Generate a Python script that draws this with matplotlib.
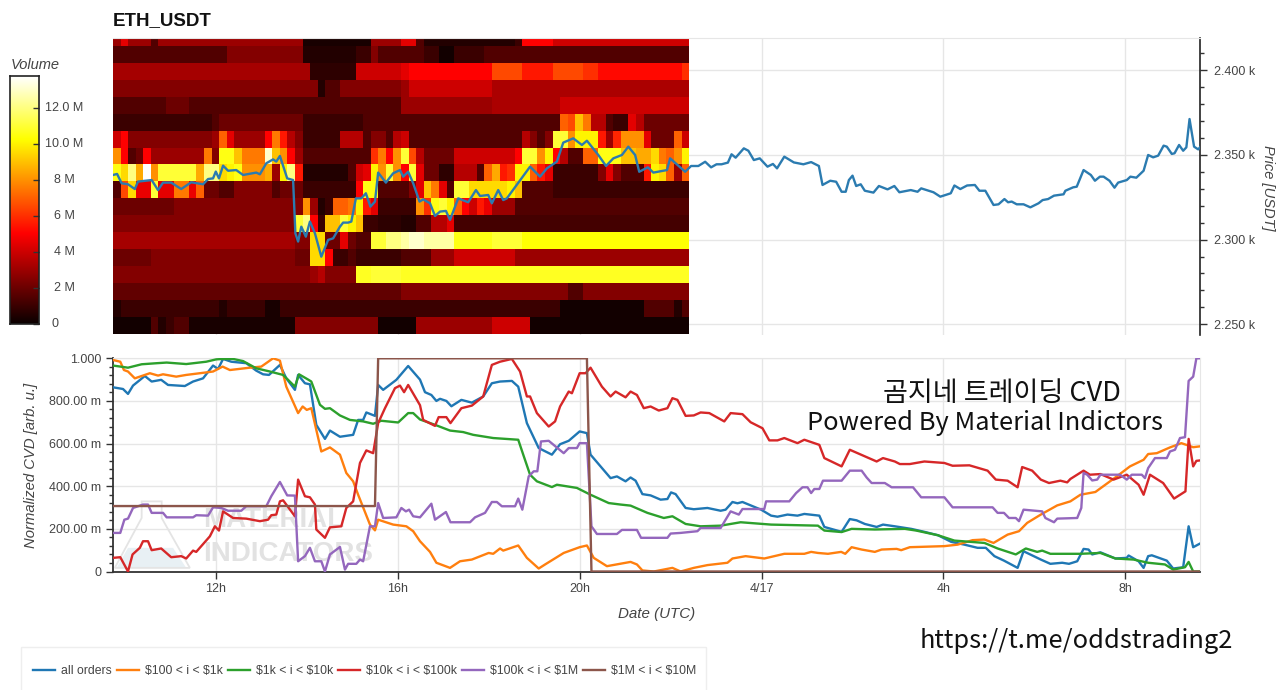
import numpy as np
import matplotlib
matplotlib.use('Agg')
import matplotlib.pyplot as plt
from matplotlib.ticker import MultipleLocator, AutoMinorLocator
from matplotlib.patches import Polygon, Rectangle

plt.rcParams['font.family'] = ['Liberation Sans', 'DejaVu Sans']

W, H = 1280, 690

# hours counted from 4/16 00:00 UTC
x_ticks = [12, 16, 20, 24, 28, 32]
x_labels = ['12h', '16h', '20h', '4/17', '4h', '8h']
x_start, x_end = 9.74, 33.64

price_ticks = [2250, 2300, 2350, 2400]
price_labels = ['2.250 k', '2.300 k', '2.350 k', '2.400 k']
cvd_ticks = [0, 200, 400, 600, 800, 1000]
cvd_labels = ['0', '200.00 m', '400.00 m', '600.00 m', '800.00 m', '1.000']
vol_ticks = [0, 2, 4, 6, 8, 10, 12]
vol_labels = ['0', '2 M', '4 M', '6 M', '8 M', '10.0 M', '12.0 M']

# heatmap rows, top to bottom, as (first 10 min column, volume in M) runs
n_cols = 76
col_minutes = 10
row_bottom, row_step = 2244.3, 10.0
heat_runs = [
    [(0,3),(1,4.5),(2,3),(5,1.5),(6,3),(25,0.3),(34,3),(38,4.5),(40,1.5),(41,0.5),(53,1),(54,5),(58,4)],
    [(0,1.5),(15,2.5),(25,0.5),(32,1),(34,2.5),(35,1.5),(41,1),(43,0.2),(45,1),(49,1.5)],
    [(0,3.2),(26,0.7),(32,4),(38,4.5),(39,5),(50,6.5),(54,5.5),(58,6.5),(62,6),(64,5.2),(75,6)],
    [(0,2.5),(27,0.5),(28,1.5),(30,2.5),(38,3),(39,4),(50,3.3)],
    [(0,1.5),(7,2),(10,1.5),(38,3),(50,3.3),(59,4)],
    [(0,1),(13,1.5),(14,2),(25,1),(33,1.5),(59,7),(60,6.5),(61,9),(62,7.5),(63,3.5),(65,1.5),(66,1),(68,4.5),(69,3.5),(70,2)],
    [(0,4),(1,5),(2,2.5),(13,3),(14,7),(15,4.5),(16,3),(20,5),(21,7.5),(22,5.5),(23,3.5),(24,2.5),(25,1),(30,3.5),(33,1.5),
     (34,2.5),(36,1.5),(37,3.5),(38,4),(39,1.5),(54,3.5),(55,2.5),(56,1.5),(57,2.5),(58,11),(60,8),(61,10),(64,5.5),(65,3),
     (66,5.8),(67,8),(70,4.5),(71,2),(74,7),(75,4)],
    [(0,8),(1,5),(2,1.5),(3,2),(4,5),(5,3),(12,7.5),(13,2.5),(14,10.5),(16,9),(17,7.5),(20,13),(21,9),(22,8),(23,5),(24,3),
     (25,1.5),(34,6),(35,7.5),(36,5),(37,8),(38,11),(39,6.5),(40,3.5),(41,2),(45,4),(53,5),(54,11),(56,8),(57,10),(58,5),
     (59,3.5),(60,1.5),(62,7),(64,10.5),(67,9),(69,8.5),(71,9.5),(72,7.5),(73,7),(74,8),(75,10)],
    [(0,10.5),(1,9.5),(2,12),(3,8.5),(4,13.7),(5,8),(6,11),(11,8.5),(12,12),(14,9.5),(15,10),(16,10.5),(17,8),(20,8.5),(21,3),
     (22,10),(23,12),(24,5.5),(25,0.5),(31,1.5),(32,4),(33,4.5),(34,10),(35,8),(36,11),(37,8),(38,5),(39,11),(40,4.5),(41,2),
     (43,0.7),(45,3.5),(48,1.5),(49,7),(50,8.5),(51,5.5),(52,6),(53,10),(55,7),(56,5.5),(57,4.5),(58,1),(64,2.5),(65,4.5),
     (66,2.5),(67,1.5),(70,5.5),(71,10),(72,9.5),(73,7),(74,3),(75,7)],
    [(0,1.5),(1,6.5),(2,9.5),(3,4.6),(5,11),(6,4.5),(8,7.5),(10,4.6),(11,7),(12,2),(14,1.5),(16,2.5),(21,1.5),(22,2),(25,1),
     (32,5),(33,10.5),(35,1.5),(39,2.5),(40,4.5),(41,9),(42,7.5),(43,4.5),(44,1.5),(45,11),(47,9.5),(52,10),(53,9),(54,1.5),(58,1)],
    [(0,2),(8,2.5),(25,8),(26,3),(27,0.5),(28,1),(29,7),(31,7.5),(32,10),(33,5.5),(34,4.5),(35,1),(40,8),(41,6),(42,10.5),
     (43,11),(44,10),(45,7),(46,5),(47,4),(48,5.5),(49,4.6),(50,3),(53,1.5)],
    [(0,2.5),(24,11),(25,12),(26,5),(27,1),(28,9),(30,11),(31,10),(32,9),(33,1),(35,0.7),(38,0.5),(40,1.5),(42,3.5),(44,4.5),(45,1.2)],
    [(0,3.2),(24,2.5),(26,9.5),(28,2),(30,4.5),(31,2),(32,1.5),(34,11),(36,12),(38,12.5),(39,13),(41,12.5),(45,10.5),(50,11),(54,10.3)],
    [(0,2),(5,2.5),(24,2),(26,9.5),(28,5),(29,1),(31,1.5),(32,1),(38,1.5),(42,3),(45,4),(53,3)],
    [(0,2.5),(26,3),(27,3.5),(28,2.5),(32,10.7),(34,11),(38,10.7)],
    [(0,1.8),(38,2.5),(60,1.5),(62,2.5)],
    [(0,0.5),(1,1),(14,0.5),(15,1),(20,0.3),(22,1),(59,0.2),(70,1.5),(74,0.5),(75,1.5)],
    [(0,0.2),(5,1.5),(6,0.5),(7,1),(8,1.5),(10,0.3),(24,2.5),(35,0.2),(40,3),(50,4),(55,0.2)],
]
vol_max = 13.75

# price line
price_t = [9.74,9.83,9.93,10.07,10.22,10.29,10.59,10.73,10.84,11.02,11.24,11.46,11.72,11.83,11.94,12,12.07,12.16,12.27,12.45,
           12.6,12.89,12.97,13.11,13.26,13.33,13.41,13.57,13.7,13.75,13.81,13.88,13.98,14.07,14.18,14.32,14.47,14.58,14.73,14.8,
           14.91,14.98,15.08,15.2,15.3,15.4,15.5,15.57,15.74,15.9,16.05,16.12,16.23,16.34,16.48,16.56,16.71,16.82,16.93,17.06,
           17.15,17.33,17.55,17.72,17.81,17.99,18.07,18.21,18.32,18.4,18.91,19.13,19.28,19.5,19.64,19.86,20.05,20.16,20.41,20.58,
           20.74,20.93,21.07,21.22,21.31,21.5,21.62,21.92,21.99,22.32,22.45,22.61,22.76,22.89,23.01,23.12,23.26,23.34,23.43,23.61,
           23.71,23.83,23.96,24.13,24.25,24.34,24.5,24.71,24.92,25.09,25.26,25.34,25.51,25.64,25.76,25.85,25.92,26,26.08,26.18,
           26.27,26.46,26.58,26.77,26.92,27.03,27.28,27.43,27.51,27.78,27.93,28.16,28.24,28.37,28.52,28.69,28.79,28.92,29.1,29.21,
           29.34,29.42,29.5,29.61,29.76,29.91,30.09,30.18,30.3,30.43,30.64,30.68,30.85,30.93,31.08,31.24,31.33,31.44,31.52,31.65,
           31.76,31.84,32.03,32.11,32.24,32.4,32.5,32.61,32.72,32.84,32.91,33.02,33.08,33.18,33.27,33.34,33.41,33.51,33.6,33.64]
price_v = [2338.1,2338.7,2333.2,2332.6,2329.8,2334.2,2335.1,2329.2,2333.6,2333.6,2329.8,2333.8,2332.6,2335.7,2336.1,2340.1,2336.1,2343.6,2340.6,2341,
           2338.1,2339.5,2338.5,2345,2347.3,2346,2349.3,2336.1,2335.1,2303.7,2298.8,2307.6,2301.7,2310.6,2303.7,2289.9,2299.8,2300.7,2307.6,2310,
           2310,2310.6,2324.3,2324.3,2327.3,2319.4,2322.4,2339.5,2333.6,2339.1,2341,2337.1,2340,2333.2,2322.4,2323.7,2321.4,2313.9,2316.5,2316.9,
           2311.6,2324.3,2322,2329.2,2325.7,2326.3,2321.4,2329.2,2323.3,2324.3,2343,2337.1,2342,2346,2357.2,2359.7,2355.8,2358.3,2349.9,2343.4,
           2347.9,2349.9,2354.8,2349.9,2340,2342.6,2339.5,2341,2347.9,2340,2343.4,2343.4,2345.9,2342.6,2344.4,2344.4,2345.4,2350.3,2348.3,2353.8,
           2352.4,2346.9,2347.9,2343,2344.6,2342,2348.9,2345.5,2344.4,2345.7,2343.4,2332.2,2334.7,2334.1,2328.2,2328.2,2335.1,2337.7,2331.6,2332.6,
           2328.8,2327.7,2331.6,2329.6,2331.6,2327.9,2329.2,2328.2,2330.2,2327.9,2325.3,2327.3,2331.9,2329.8,2331.9,2332.2,2328.8,2328.8,2320.4,2320.8,
           2323.9,2322,2322.4,2320.8,2320.8,2319,2321.4,2323.3,2323.9,2325.9,2326.7,2328.8,2330.8,2331.2,2341,2338.1,2334.7,2337.1,2337.1,2334.7,
           2330.6,2333.6,2335.1,2337.1,2336.5,2340.6,2349.9,2348.5,2349.5,2355.4,2354.8,2350.5,2350.9,2355.8,2352.4,2354.4,2371.1,2354.8,2353.2,2354.4]

# normalized CVD series, values in milli units
all_t = [9.74,9.96,10.07,10.18,10.44,10.59,10.8,10.95,11.32,11.5,11.72,11.94,12.05,12.16,12.34,12.67,12.89,13.04,13.17,13.41,
         13.55,13.74,13.81,13.96,14.07,14.21,14.4,14.51,14.73,15.02,15.13,15.24,15.31,15.5,15.57,15.68,15.97,16.23,16.49,16.6,
         16.74,16.85,16.93,17.07,17.18,17.4,17.63,17.88,18.07,18.25,18.51,18.65,18.84,19.1,19.39,19.57,19.76,20,20.16,20.24,
         20.68,20.82,21.01,21.12,21.23,21.38,21.56,21.78,21.93,22.01,22.11,22.33,22.51,22.81,23.1,23.21,23.36,23.47,23.58,23.99,
         24.21,24.35,24.57,24.79,24.94,25.27,25.38,25.76,25.94,26.09,26.27,26.53,26.67,26.93,27.29,27.58,27.88,28.17,28.46,28.75,
         28.93,29.12,29.33,29.63,29.76,30.14,30.35,30.61,30.76,30.94,31.08,31.19,31.27,31.45,31.78,32.03,32.07,32.29,32.4,32.5,
         32.58,32.91,33.05,33.27,33.39,33.49,33.64]
all_v = [864,856,833,872,917,891,899,875,870,891,906,966,950,997,984,977,942,925,922,969,
         906,852,922,883,878,688,622,661,632,641,711,711,746,730,875,852,899,964,900,841,
         828,800,810,800,775,805,792,821,883,891,894,867,696,579,548,597,613,657,649,548,
         438,446,423,441,426,363,357,337,340,371,363,298,292,298,285,290,326,320,326,290,
         262,257,267,262,270,262,209,186,246,240,223,209,220,212,200,186,170,139,126,111,
         111,72,51,17,95,56,36,41,36,48,106,103,80,90,61,64,75,48,17,72,
         76,51,14,20,212,114,131]

o_t = [9.74,9.9,9.98,10.07,10.22,10.55,10.73,10.84,11.13,11.35,11.65,11.94,12.15,12.31,12.75,13,13.26,13.41,13.55,13.81,
       13.91,14,14.1,14.32,14.51,14.73,14.87,15.02,15.13,15.39,15.5,15.57,15.9,16.19,16.34,16.49,16.71,16.85,17.15,17.37,
       17.63,18,18.1,18.25,18.32,18.65,18.84,19.1,19.24,19.65,20,20.16,20.31,20.6,21.12,21.26,21.38,21.63,22.04,22.22,
       22.51,22.81,23.25,23.36,23.65,24.06,24.5,24.94,25.09,25.24,25.46,25.75,25.84,25.98,26.2,26.49,26.64,26.97,27.07,27.26,
       28.02,28.31,28.64,28.9,29.1,29.41,29.66,29.84,30.14,30.5,30.79,31.01,31.34,31.81,32.1,32.4,32.5,32.69,32.98,33.23,
       33.49,33.64]
o_v = [992,984,945,938,906,930,919,925,914,922,930,938,961,945,956,961,1000,989,867,743,
       774,758,766,563,582,548,462,423,360,220,193,243,220,212,189,142,92,41,17,48,
       56,87,83,108,98,122,64,14,33,87,114,122,64,25,45,33,5,0,17,0,
       17,30,41,61,72,61,83,83,92,87,83,92,83,114,103,92,103,106,100,114,
       119,126,147,150,134,173,189,228,267,310,329,360,373,446,493,524,551,555,582,602,
       583,587]

g_t = [9.74,10.07,10.37,10.7,10.92,11.35,11.79,12.01,12.16,12.38,12.6,12.89,13.19,13.48,13.74,13.83,14.04,14.1,14.29,14.4,
       14.51,14.73,14.95,15.24,15.46,15.64,16.01,16.23,16.34,16.49,16.82,17.15,17.44,17.66,18.1,18.65,18.76,18.91,19.06,19.39,
       19.5,19.94,20.24,20.64,20.9,21.12,21.49,21.85,22.04,22.33,22.66,23.1,23.54,24.21,25.24,25.38,25.76,25.98,26.49,27.15,
       27.4,27.88,28.24,28.9,29.19,29.59,29.81,30.06,30.17,30.35,31.01,31.45,31.78,32.18,32.5,32.87,33.05,33.31,33.39,33.49,
       33.64]
g_v = [966,956,972,977,980,973,984,995,997,997,987,953,938,922,867,925,899,891,782,763,
       766,732,711,704,693,707,699,743,743,713,688,661,654,641,626,618,548,454,423,396,
       407,392,360,321,314,309,275,251,259,223,212,215,231,220,215,192,185,200,197,200,
       192,170,145,134,108,80,108,92,98,83,83,87,61,56,41,33,9,20,45,0,
       0]

r_t = [9.74,9.9,10.07,10.17,10.33,10.4,10.51,10.59,10.8,11.02,11.24,11.35,11.5,11.57,11.87,11.98,12.07,12.16,12.38,12.67,
       12.97,13.15,13.22,13.33,13.41,13.48,13.74,13.81,13.96,14.07,14.18,14.21,14.4,14.51,14.76,14.87,15.02,15.17,15.31,15.46,
       15.57,15.72,15.94,16.05,16.14,16.23,16.49,16.56,16.82,16.9,17.07,17.16,17.4,17.63,17.88,18.07,18.25,18.51,18.69,18.84,
       18.91,19.06,19.32,19.46,19.57,19.76,19.83,20,20.13,20.24,20.49,20.68,20.79,21.01,21.12,21.26,21.41,21.56,21.74,21.93,
       22.04,22.15,22.33,22.51,22.66,22.85,23.18,23.32,23.58,23.76,24.02,24.17,24.35,24.5,24.79,24.94,25.27,25.38,25.76,25.94,
       26.27,26.53,26.67,26.93,27.04,27.26,27.58,28.02,28.2,28.57,28.97,29.15,29.41,29.63,29.73,29.95,30.14,30.32,30.57,30.72,
       30.79,31.08,31.22,31.45,31.74,32.03,32.29,32.4,32.54,32.83,33.07,33.32,33.39,33.49,33.56,33.64]
r_v = [64,67,0,80,111,142,142,100,108,67,72,61,98,92,165,212,192,282,251,248,
       236,243,264,267,329,334,259,431,353,348,314,197,158,207,212,298,329,509,568,555,
       696,766,860,872,841,875,780,711,683,724,724,696,766,778,821,969,984,997,938,821,
       821,743,680,704,774,844,836,930,930,956,867,821,844,817,844,828,766,774,755,766,
       813,805,730,732,746,743,704,743,738,700,672,615,615,626,602,618,594,532,493,571,
       540,516,532,516,504,504,516,509,496,498,473,431,426,395,490,473,431,415,426,418,
       434,473,454,457,431,454,407,360,454,415,342,376,622,493,519,521]

p_t = [9.74,9.9,9.99,10.07,10.18,10.4,10.51,10.59,10.84,10.92,11.5,11.57,11.83,11.94,12.12,12.27,12.56,12.67,13.11,13.22,
       13.41,13.57,13.74,13.81,13.96,14.07,14.18,14.32,14.4,14.51,14.73,14.84,14.91,15.09,15.17,15.24,15.39,15.5,15.57,15.68,
       15.97,16.08,16.18,16.25,16.34,16.49,16.74,16.82,17.06,17.16,17.59,17.7,17.92,18.07,18.18,18.29,18.58,18.65,18.74,18.88,
       18.99,19.07,19.15,19.32,19.65,19.76,19.94,20,20.16,20.26,20.38,20.82,20.93,21.26,21.35,21.93,22,22.22,22.59,22.66,
       23.1,23.32,23.5,23.58,24.06,24.1,24.61,24.76,24.9,25.01,25.09,25.16,25.27,25.35,25.76,25.94,26.2,26.31,26.42,26.71,
       26.86,27.33,27.51,28.02,28.2,29.08,29.19,29.33,29.44,29.59,29.66,29.76,30.17,30.24,30.43,30.5,30.94,31.03,31.08,31.16,
       31.27,31.38,31.45,31.88,32.03,32.14,32.36,32.43,32.5,32.65,32.91,32.98,33.09,33.2,33.31,33.39,33.49,33.56,33.64]
p_v = [181,181,243,248,298,314,314,275,275,254,254,264,262,301,298,285,285,306,306,353,
       420,357,356,48,72,111,48,48,0,80,115,9,36,36,56,48,212,212,321,251,
       254,298,282,290,259,254,318,243,279,231,231,254,275,326,326,306,306,342,290,446,
       470,470,610,613,555,579,579,602,602,212,176,176,195,195,158,158,178,181,189,204,
       204,282,267,293,293,329,329,368,395,395,368,387,387,426,426,473,473,441,415,415,
       395,395,348,348,301,301,275,275,251,251,236,290,282,251,231,248,251,298,462,454,
       427,431,454,454,431,454,454,438,485,532,532,563,571,626,630,894,914,1000,1000]

b_t = [9.74,15.5,15.57,20.16,20.26,33.64]
b_v = [307,307,1000,1000,0,0]

series_names = ['all orders', r'\$100 < i < \$1k', r'\$1k < i < \$10k', r'\$10k < i < \$100k',
                r'\$100k < i < \$1M', r'\$1M < i < \$10M']
series_colors = ['#1f77b4', '#ff7f0e', '#2ca02c', '#d62728', '#9467bd', '#8c564b']
series_t = [all_t, o_t, g_t, r_t, p_t, b_t]
series_v = [all_v, o_v, g_v, r_v, p_v, b_v]

text_color = '#444444'
grid_color = '#e6e6e6'


def px_axes(fig, left, top, right, bottom):
    return fig.add_axes([left / W, 1 - bottom / H, (right - left) / W, (bottom - top) / H])


def expand(runs):
    vals = np.zeros(n_cols)
    for start, v in runs:
        vals[start:] = v
    return vals


fig = plt.figure(figsize=(W / 100, H / 100), dpi=100)

# price panel with the order heatmap
ax = px_axes(fig, 113, 38, 1200, 335)
heat = np.array([expand(r) for r in heat_runs])[::-1]
col_edges = x_start + np.arange(n_cols + 1) * col_minutes / 60
row_edges = row_bottom + np.arange(len(heat_runs) + 1) * row_step
ax.pcolormesh(col_edges, row_edges, heat, cmap='hot', vmin=0, vmax=vol_max, shading='flat', zorder=1)
ax.plot(price_t, price_v, color='#2b7bb0', lw=1.7, zorder=3)
ax.set_xlim(x_start, x_end)
ax.set_ylim(2243.7, 2418.9)
ax.set_xticks(x_ticks)
ax.tick_params(axis='x', length=0, labelbottom=False)
ax.yaxis.tick_right()
ax.yaxis.set_label_position('right')
ax.set_yticks(price_ticks)
ax.set_yticklabels(price_labels)
ax.yaxis.set_minor_locator(MultipleLocator(10))
ax.tick_params(axis='y', which='major', length=5, width=1, color='#333333', labelsize=9,
               labelcolor=text_color, pad=5)
ax.tick_params(axis='y', which='minor', length=3, width=1, color='#333333')
ax.grid(True, color=grid_color, lw=1, zorder=0)
ax.set_axisbelow(True)
for s in ['left', 'bottom']:
    ax.spines[s].set_visible(False)
ax.spines['top'].set_color(grid_color)
ax.spines['right'].set_color('#222222')
ax.spines['right'].set_linewidth(1.2)
fig.text(1268 / W, 1 - 188 / H, 'Price [USDT]', rotation=270, style='italic', fontsize=10.5,
         color=text_color, ha='center', va='center')
fig.text(113 / W, 1 - 21 / H, 'ETH_USDT', fontweight='bold', fontsize=13.5, color='#111111',
         ha='left', va='center')

# colour bar
cax = px_axes(fig, 10, 76, 39, 324)
gradient = np.linspace(0, vol_max, 256).reshape(-1, 1)
cax.imshow(gradient, cmap='hot', vmin=0, vmax=vol_max, aspect='auto', origin='lower',
           extent=[0, 1, 0, vol_max])
cax.set_xticks([])
cax.set_yticks(vol_ticks)
cax.set_yticklabels([])
cax.tick_params(axis='y', direction='in', right=True, left=False, length=4, width=1, color='#333333')
for s in cax.spines.values():
    s.set_color('#222222')
    s.set_linewidth(1.2)
for tick, lab in zip(vol_ticks, vol_labels):
    cax.annotate(lab, (1, tick), xycoords=('axes fraction', 'data'),
                 xytext=(16 if lab == '0' else 25, 0), textcoords='offset pixels',
                 ha='center', va='center', fontsize=9, color=text_color)
fig.text(11 / W, 1 - 65 / H, 'Volume', style='italic', fontsize=10.5, color=text_color, ha='left', va='center')

# CVD panel
ax2 = px_axes(fig, 113, 358.3, 1200, 571.5)
for t, v, c in zip(series_t, series_v, series_colors):
    ax2.plot(t, v, color=c, lw=1.7, zorder=3, solid_joinstyle='round')
ax2.set_xlim(x_start, x_end)
ax2.set_ylim(0, 1000)
ax2.set_xticks(x_ticks)
ax2.set_xticklabels(x_labels)
ax2.set_yticks(cvd_ticks)
ax2.set_yticklabels(cvd_labels)
ax2.yaxis.set_minor_locator(AutoMinorLocator(5))
ax2.tick_params(axis='both', which='major', length=5, width=1, color='#333333', labelsize=9,
                labelcolor=text_color)
ax2.tick_params(axis='y', which='minor', length=3, width=1, color='#333333')
ax2.grid(True, color=grid_color, lw=1)
ax2.set_axisbelow(True)
ax2.spines['top'].set_color(grid_color)
ax2.spines['right'].set_color(grid_color)
ax2.spines['left'].set_color('#333333')
ax2.spines['left'].set_linewidth(1.3)
ax2.spines['bottom'].set_color('#333333')
ax2.spines['bottom'].set_linewidth(1.3)
fig.text(31 / W, 1 - 465 / H, 'Normalized CVD [arb. u.]', rotation=90, style='italic', fontsize=10.7,
         color=text_color, ha='center', va='center')
fig.text(657 / W, 1 - 614 / H, 'Date (UTC)', style='italic', fontsize=10.9, color=text_color, ha='center', va='center')

# faded Material Indicators watermark under the lines
ax2.text(0.083, 0.24, 'MATERIAL', transform=ax2.transAxes, fontweight='bold', fontsize=20,
         color='#e2e2e2', ha='left', va='center', zorder=1)
ax2.text(0.083, 0.08, 'INDICATORS', transform=ax2.transAxes, fontweight='bold', fontsize=20,
         color='#e2e2e2', ha='left', va='center', zorder=1)
ax2.add_patch(Polygon([[10.07, 111], [11.06, 111], [11.35, 17], [9.82, 17]],
                      closed=True, facecolor='#e8f0f4', edgecolor='none', zorder=1))
ax2.add_patch(Polygon([[10.37, 329], [10.81, 329], [10.81, 251], [11.43, 17], [9.78, 17], [10.37, 251]],
                      closed=True, facecolor='none', edgecolor='#e4e4e4', lw=1.3, zorder=1))

# overlaid annotations
kr = ['Noto Sans CJK KR', 'DejaVu Sans']
fig.text(1002 / W, 1 - 393 / H, '곰지네 트레이딩 CVD', family=kr, fontsize=19.5, fontweight=500,
         color='#111111', ha='center', va='center')
fig.text(985 / W, 1 - 423.5 / H, 'Powered By Material Indictors', family=kr, fontsize=18.3, fontweight=500,
         color='#111111', ha='center', va='center')
fig.text(1076 / W, 1 - 640.5 / H, 'https://t.me/oddstrading2', family=kr, fontsize=18.3, fontweight=500,
         color='#111111', ha='center', va='center')

# legend strip
handles = ax2.get_lines()[:6]
fig.add_artist(Rectangle((21 / W, -0.02), 685 / W, 1 - 647 / H + 0.02, transform=fig.transFigure,
                         facecolor='white', edgecolor='#eeeeee', lw=1))
fig.legend(handles, series_names, ncol=6, loc='center left', bbox_to_anchor=(33 / W, 1 - 671 / H),
           frameon=False, fontsize=8.8, handlelength=1.8, handletextpad=0.5, columnspacing=0.4,
           labelcolor=text_color, borderpad=0, borderaxespad=0)

fig.savefig('out.png', dpi=100)
